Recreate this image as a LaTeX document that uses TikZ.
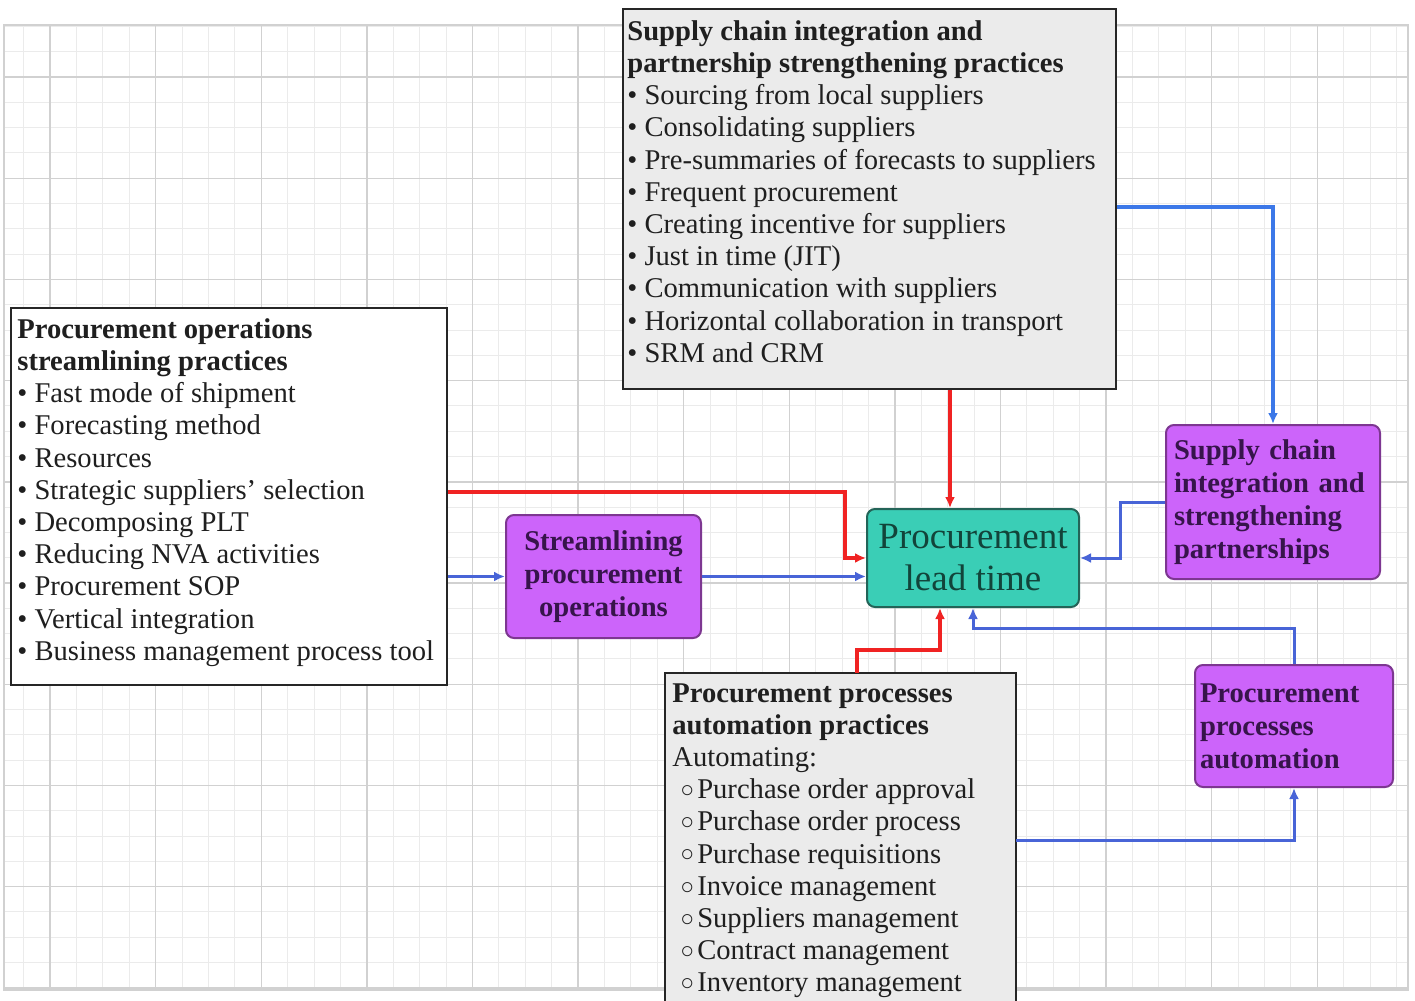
\documentclass[tikz,border=0pt]{standalone}
\usepackage{fontspec}
\setmainfont{Liberation Serif}
\usetikzlibrary{arrows.meta,calc}
\definecolor{purp}{RGB}{204,100,250}
\definecolor{purpdraw}{RGB}{125,55,145}
\definecolor{purptext}{RGB}{55,20,75}
\definecolor{teal2}{RGB}{58,206,182}
\definecolor{tealdraw}{RGB}{35,100,88}
\definecolor{tealtext}{RGB}{18,68,58}
\definecolor{gbox}{RGB}{235,235,235}
\definecolor{redl}{RGB}{240,35,35}
\definecolor{bluel}{RGB}{72,100,215}
\definecolor{bluebr}{RGB}{60,120,232}
\newcommand\hollowb{\hspace*{4pt}\raisebox{0.6pt}{\fontsize{11.5}{11.5}\selectfont ○}\hspace{1.5pt}}
\begin{document}
\begin{tikzpicture}[x=0.5pt,y=-0.5pt,
  minorgrid/.style={draw=black!8,line width=0.5pt},
  majorgrid/.style={draw=black!18,line width=0.7pt},
  listbox/.style={draw=black!85,line width=1pt,anchor=north west,inner sep=0pt},
  listtext/.style={anchor=north west,inner sep=0pt,align=left,
    font=\fontsize{14.3}{16.1}\selectfont,text=black!88},
  purpbox/.style={draw=purpdraw,fill=purp,rounded corners=4pt,line width=1pt,
    inner ysep=0pt,font=\bfseries\fontsize{14.3}{16.5}\selectfont,text=purptext},
  leadbox/.style={draw=tealdraw,fill=teal2,rounded corners=4pt,line width=1pt,
    inner sep=0pt,align=center,font=\fontsize{18.5}{21}\selectfont,text=tealtext},
  conn/.style={-{Latex[length=5.5pt,width=5pt]}},
  redc/.style={conn,draw=redl,line width=1.9pt},
  bluec/.style={conn,draw=bluel,line width=1.5pt}]

\useasboundingbox[fill=white] (0,0) rectangle (1415,1001);

% grid
\foreach \k in {-1,...,51} \draw[minorgrid] ({50+26.4*\k},25) -- ({50+26.4*\k},990);
\foreach \k in {-2,...,36} \draw[minorgrid] (4,{77+25.3*\k}) -- (1408,{77+25.3*\k});
\foreach \m in {0,...,12} \draw[majorgrid] ({50+105.6*\m},25) -- ({50+105.6*\m},990);
\foreach \m in {0,...,9} \draw[majorgrid] (4,{77+101.2*\m}) -- (1408,{77+101.2*\m});
\draw[majorgrid] (4,25) rectangle (1408,990);

% list boxes
\node[listbox,fill=gbox,minimum width=246.5pt,minimum height=190pt] (top) at (622,8) {};
\node[listtext] (topT) at (627,20) {\textbf{Supply chain integration and}\\
\textbf{partnership strengthening practices}\\
• Sourcing from local suppliers\\
• Consolidating suppliers\\
• Pre-summaries of forecasts to suppliers\\
• Frequent procurement\\
• Creating incentive for suppliers\\
• Just in time (JIT)\\
• Communication with suppliers\\
• Horizontal collaboration in transport\\
• SRM and CRM};

\node[listbox,fill=white,minimum width=218pt,minimum height=188.5pt] (left) at (10,307) {};
\node[listtext] (leftT) at (17,318) {\textbf{Procurement operations}\\
\textbf{streamlining practices}\\
• Fast mode of shipment\\
• Forecasting method\\
• Resources\\
• Strategic suppliers' selection\\
• Decomposing PLT\\
• Reducing NVA activities\\
• Procurement SOP\\
• Vertical integration\\
• Business management process tool};

\node[anchor=north west,inner sep=0pt,fill=gbox,minimum width=175pt,minimum height=165pt] (bot) at (665,673) {};
\draw[draw=black!85,line width=1pt] (bot.south west) -- (bot.north west) -- (bot.north east) -- (bot.south east);
\node[listtext] (botT) at (672,683) {\textbf{Procurement processes}\\
\textbf{automation practices}\\
Automating:\\
\hollowb Purchase order approval\\
\hollowb Purchase order process\\
\hollowb Purchase requisitions\\
\hollowb Invoice management\\
\hollowb Suppliers management\\
\hollowb Contract management\\
\hollowb Inventory management};

% coloured boxes
\node[purpbox,minimum width=97.5pt,minimum height=61.5pt,align=center] (strm) at (603.5,576.5)
  {Streamlining\\procurement\\operations};
\node[leadbox,minimum width=106pt,minimum height=49pt] (lead) at (973,558)
  {Procurement\\lead time};
\node[purpbox,minimum width=107pt,minimum height=77pt,inner xsep=4pt,text width=99pt,align=left] (sc) at (1273,502)
  {Supply chain\\integration and\\strengthening\\partnerships};
\node[purpbox,minimum width=99pt,minimum height=61pt,inner xsep=2.5pt,text width=94pt,align=left] (pa) at (1294,726)
  {Procurement\\processes\\automation};

% helper coordinates
\coordinate (r1) at (845,492);
\coordinate (r4) at (950,0);
\coordinate (b5) at (0,207);
\coordinate (b6) at (1120,0);
\coordinate (r7a) at (857,650);
\coordinate (r7b) at (940,650);
\coordinate (b8) at (0,628);
\coordinate (b9) at (0,840);

% connectors
\draw[redc] (left.east |- r1) -- (r1) |- (lead.west);
\draw[bluec] (left.east |- strm.west) -- (strm.west);
\draw[bluec] (strm.east) -- (lead.west |- strm.east);
\draw[redc] (top.south -| r4) -- (lead.north -| r4);
\draw[bluec,draw=bluebr,line width=1.9pt] (top.east |- b5) -| (sc.north);
\draw[bluec] (sc.west) -- (sc.west -| b6) |- (lead.east);
\draw[redc] (bot.north -| r7a) -- (r7a) -- (r7b) -- (lead.south -| r7b);
\draw[bluec] (pa.north) -- (pa.north |- b8) -| (lead.south);
\draw[bluec] (bot.east |- b9) -| (pa.south);
\end{tikzpicture}
\end{document}
